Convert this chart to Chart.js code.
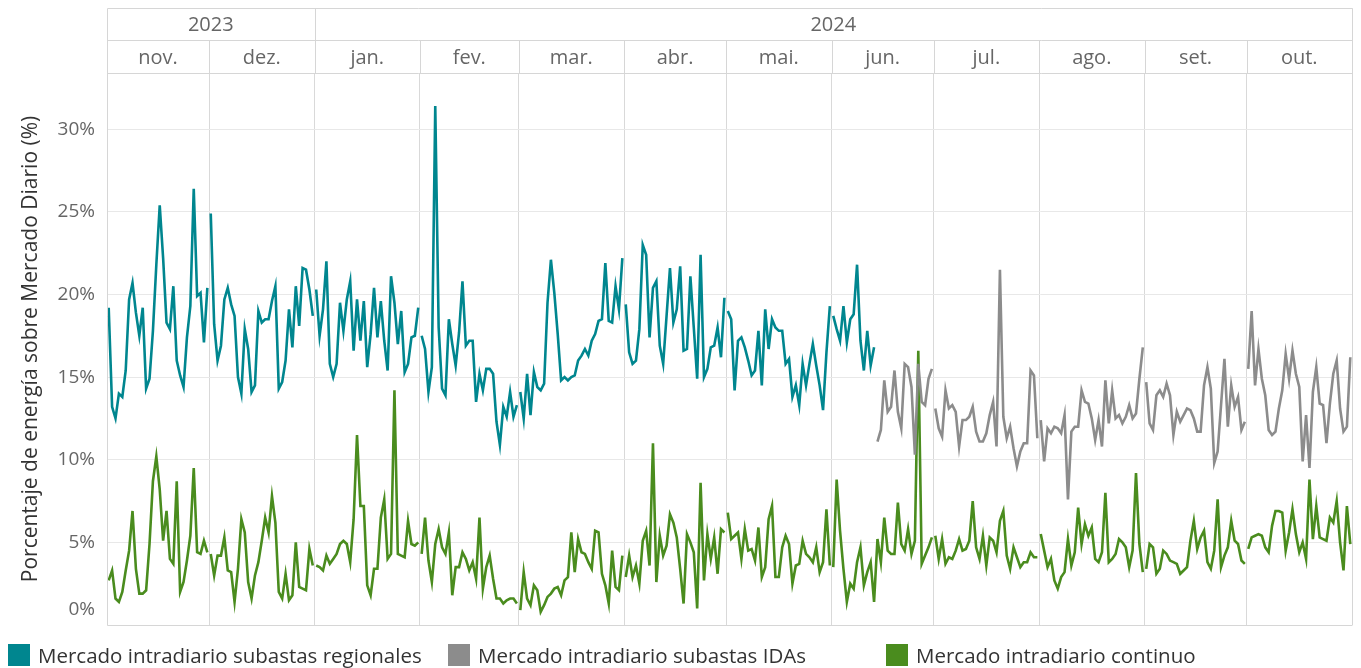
<!DOCTYPE html>
<html>
<head>
<meta charset="utf-8">
<title>Mercado intradiario</title>
<script src="https://cdn.jsdelivr.net/npm/chart.js@4"></script>
<style>
  html, body { margin: 0; padding: 0; background: #fff; }
  #wrap { position: relative; width: 1361px; height: 668px; overflow: hidden; }
  #chart { position: absolute; left: 0; top: 0; }
  .legend { position: absolute; left: 0; top: 643px; font-family: "Open Sans", sans-serif; font-size: 20.5px; color: #333; }
  .item { position: absolute; top: 0; white-space: nowrap; padding-left: 30px; line-height: 24px; }
  .sw { position: absolute; left: 0; top: 1px; width: 22px; height: 22px; }
</style>
</head>
<body>
<div id="wrap">
  <canvas id="chart" width="1361" height="668"></canvas>
  <div class="legend" id="legend"></div>
</div>
<script>
var months = ['nov.', 'dez.', 'jan.', 'fev.', 'mar.', 'abr.', 'mai.', 'jun.', 'jul.', 'ago.', 'set.', 'out.'];
var monthDays = [30, 31, 31, 29, 31, 30, 31, 30, 31, 31, 30, 31];
var years = ['2023', '2024'];
var yearMonths = [2, 10];
var yTicks = [0, 5, 10, 15, 20, 25, 30];

// 1 nov 2023 - 13 jun 2024
var regionales = [
  19.2, 13.2, 12.5, 14.0, 13.8, 15.4, 19.7, 20.7, 18.9, 17.5, 19.2, 14.3, 14.9, 17.8, 21.8, 25.4, 22.2, 18.3, 17.9, 20.5, 16.0, 15.1, 14.4, 17.4, 19.3, 26.4, 19.9, 20.1, 17.1, 20.4,
  24.9, 18.2, 16.0, 16.9, 19.7, 20.4, 19.4, 18.7, 15.0, 14.0, 17.9, 16.7, 14.1, 14.5, 19.0, 18.3, 18.5, 18.5, 19.6, 20.5, 14.3, 14.7, 16.0, 19.1, 16.8, 20.5, 18.1, 21.6, 21.5, 20.3, 18.7,
  20.3, 17.5, 19.1, 22.0, 15.8, 15.0, 15.8, 19.5, 17.8, 19.7, 20.8, 16.6, 19.7, 17.2, 19.6, 15.6, 17.6, 20.4, 17.4, 19.6, 17.2, 15.4, 21.1, 19.5, 17.0, 19.0, 15.3, 15.8, 17.4, 17.5, 19.2,
  17.5, 16.7, 14.1, 15.6, 31.4, 18.0, 14.3, 13.9, 18.5, 17.0, 15.7, 17.7, 20.8, 16.9, 17.2, 17.2, 13.5, 15.2, 14.2, 15.5, 15.5, 15.2, 12.3, 10.9, 13.2, 12.6, 14.1, 12.6, 13.3,
  14.1, 12.5, 15.2, 12.7, 15.3, 14.4, 14.2, 14.6, 19.5, 22.1, 20.1, 17.6, 14.8, 15.0, 14.8, 15.0, 15.1, 16.0, 16.3, 16.7, 16.3, 17.2, 17.6, 18.4, 18.5, 21.9, 18.4, 18.3, 20.5, 19.1, 22.2,
  19.4, 16.5, 15.8, 16.0, 17.9, 23.0, 22.4, 17.4, 20.4, 20.8, 16.9, 15.8, 18.7, 21.6, 18.3, 19.1, 21.7, 16.6, 16.7, 21.1, 18.0, 14.9, 22.4, 15.0, 15.5, 16.8, 16.9, 18.0, 16.2, 19.8,
  19.0, 18.5, 14.2, 17.2, 17.4, 16.8, 16.0, 15.1, 15.4, 17.8, 14.5, 19.1, 16.7, 18.5, 18.0, 17.8, 17.8, 15.8, 16.1, 13.8, 14.5, 13.3, 15.8, 14.5, 15.8, 17.0, 15.7, 14.5, 13.0, 16.5, 19.3,
  18.7, 17.9, 17.2, 19.3, 17.1, 18.5, 18.8, 21.8, 17.2, 15.4, 17.8, 15.7, 16.8
];

// 14 jun - 31 out 2024
var idas = [
  11.1, 11.8, 14.8, 12.9, 13.2, 15.4, 12.9, 11.9, 15.8, 15.6, 14.4, 10.3, 15.8, 13.5, 13.3, 14.9, 15.5,
  13.1, 11.9, 11.4, 14.2, 13.1, 13.3, 12.9, 10.8, 12.4, 12.4, 12.6, 13.2, 11.7, 11.1, 11.1, 11.6, 12.7, 13.5, 10.8, 21.5, 12.6, 11.3, 12.0, 10.7, 9.6, 10.5, 11.0, 11.0, 15.4, 15.1, 11.3,
  12.4, 9.9, 11.9, 11.6, 12.0, 11.9, 11.6, 12.7, 7.6, 11.7, 12.0, 12.0, 14.2, 13.5, 13.4, 12.5, 11.2, 12.4, 10.8, 14.8, 12.2, 14.2, 12.5, 12.7, 12.2, 12.6, 13.3, 12.5, 12.8, 14.9, 16.8,
  14.7, 12.2, 11.8, 13.9, 14.2, 13.8, 14.6, 13.9, 11.5, 12.9, 12.3, 12.7, 13.1, 13.0, 12.5, 11.7, 11.7, 14.5, 15.6, 14.3, 9.8, 10.5, 13.3, 16.1, 12.0, 14.5, 13.2, 13.8, 11.8, 12.3,
  15.5, 19.0, 14.5, 16.7, 14.9, 13.9, 11.8, 11.5, 11.7, 13.1, 14.2, 16.4, 14.9, 16.6, 15.2, 14.4, 9.9, 12.7, 9.5, 14.1, 15.6, 13.4, 13.3, 11.0, 13.4, 15.2, 16.0, 13.1, 11.7, 12.0, 16.2
];
var idasStart = 226;

// 1 nov 2023 - 31 out 2024
var continuo = [
  2.7, 3.3, 1.6, 1.4, 2.0, 3.3, 4.5, 6.9, 3.4, 1.9, 1.9, 2.1, 4.9, 8.7, 10.2, 8.2, 5.1, 6.9, 4.0, 3.7, 8.7, 2.0, 2.6, 3.9, 5.4, 9.5, 4.4, 4.3, 5.1, 4.4,
  4.3, 3.0, 4.2, 4.2, 5.3, 3.3, 3.2, 1.4, 3.4, 6.4, 5.6, 2.6, 1.6, 3.0, 3.8, 5.1, 6.5, 5.6, 7.8, 6.2, 2.0, 1.6, 3.1, 1.5, 1.8, 5.0, 2.3, 2.2, 2.1, 4.6, 3.6,
  3.6, 3.5, 3.3, 4.2, 3.7, 4.0, 4.3, 4.9, 5.1, 4.9, 3.8, 6.4, 11.5, 7.2, 7.2, 2.4, 1.8, 3.4, 3.4, 6.5, 7.6, 4.0, 4.3, 14.2, 4.3, 4.2, 4.1, 6.3, 4.9, 4.8, 5.0,
  4.3, 6.5, 3.9, 2.6, 4.9, 5.8, 4.7, 4.3, 5.6, 1.8, 3.5, 3.5, 4.4, 4.0, 3.3, 3.8, 2.8, 6.5, 2.2, 3.5, 4.2, 2.8, 1.6, 1.6, 1.3, 1.5, 1.6, 1.6, 1.3,
  0.9, 3.2, 1.6, 1.2, 2.4, 2.1, 0.8, 1.2, 1.7, 1.9, 2.2, 2.3, 1.8, 2.7, 2.9, 5.6, 3.2, 5.2, 4.4, 4.3, 3.8, 3.4, 5.7, 5.6, 3.1, 2.4, 1.3, 4.5, 2.3, 2.1, 4.2,
  2.9, 4.2, 2.9, 3.6, 2.5, 5.1, 5.7, 3.6, 11.0, 2.6, 5.4, 4.2, 4.8, 6.7, 6.2, 5.3, 3.4, 1.3, 5.5, 5.0, 4.4, 1.0, 8.6, 2.7, 5.5, 4.0, 5.3, 3.1, 5.8, 5.6,
  6.8, 5.2, 5.4, 5.6, 4.0, 5.8, 4.5, 4.6, 3.9, 5.9, 2.9, 3.5, 6.4, 7.2, 2.9, 2.9, 4.7, 5.4, 4.9, 2.5, 3.6, 3.7, 5.1, 4.3, 4.1, 3.8, 4.7, 3.2, 3.8, 7.0, 3.6,
  3.5, 8.8, 5.7, 3.4, 1.4, 2.5, 2.2, 3.8, 4.7, 2.4, 3.2, 3.8, 1.4, 5.2, 3.8, 6.5, 4.5, 4.3, 4.3, 7.4, 4.9, 4.5, 5.8, 4.3, 5.1, 16.6, 3.7, 4.2, 4.7, 5.3,
  5.4, 4.0, 5.2, 3.7, 4.1, 4.0, 4.5, 5.2, 4.5, 4.6, 5.1, 7.5, 4.7, 4.0, 5.4, 3.6, 5.3, 5.1, 4.4, 6.3, 6.9, 4.2, 3.4, 4.7, 4.1, 3.5, 3.8, 3.8, 4.4, 4.1, 4.1,
  5.5, 4.5, 3.5, 4.0, 2.7, 2.2, 2.9, 3.2, 5.2, 3.6, 4.4, 7.1, 4.9, 6.1, 5.4, 5.9, 4.0, 3.8, 4.4, 8.0, 3.8, 4.0, 4.3, 5.2, 5.0, 4.7, 3.5, 4.5, 9.2, 4.9, 3.2,
  3.4, 4.9, 4.7, 3.1, 3.4, 4.5, 4.3, 3.9, 3.8, 3.7, 3.1, 3.3, 3.5, 5.1, 6.3, 4.6, 5.3, 5.7, 3.8, 3.4, 4.5, 7.6, 3.5, 4.2, 4.7, 6.3, 5.1, 4.9, 3.9, 3.7,
  4.6, 5.3, 5.4, 5.5, 5.4, 4.7, 4.4, 6.0, 6.9, 6.9, 6.8, 4.5, 5.6, 7.0, 5.5, 4.4, 5.0, 4.0, 8.8, 5.2, 7.2, 5.3, 5.2, 5.1, 6.5, 6.2, 7.5, 5.0, 3.3, 7.2, 4.9
];

var series = [
  { label: 'Mercado intradiario subastas regionales', color: '#00868f', values: regionales, start: 0 },
  { label: 'Mercado intradiario subastas IDAs', color: '#8c8c8c', values: idas, start: idasStart },
  { label: 'Mercado intradiario continuo', color: '#4a8c1e', values: continuo, start: 0 }
];

var FONT = '"Open Sans", sans-serif';
var TICK_FONT = { family: FONT, size: 19 };

// day offsets where each month begins
var monthStarts = [0];
for (var i = 0; i < monthDays.length; i++) {
  monthStarts.push(monthStarts[i] + monthDays[i]);
}
var totalDays = monthStarts[monthStarts.length - 1];

// one point per day, broken at every month edge
function toPoints(values, start) {
  var pts = [];
  for (var i = 0; i < values.length; i++) {
    var d = start + i;
    if (i > 0 && monthStarts.indexOf(d) !== -1) pts.push({ x: d, y: null });
    pts.push({ x: d + 0.5, y: values[i] });
  }
  return pts;
}

// year / month header above the plot, plus the frame around it
var header = {
  id: 'header',
  afterDraw: function(chart) {
    var ctx = chart.ctx, xs = chart.scales.x, ys = chart.scales.y, area = chart.chartArea;
    var top = 8.5, mid = 40.5, bottom = area.top + 0.5;
    var left = Math.round(area.left) + 0.5, right = Math.round(area.right) + 0.5;
    ctx.save();
    ctx.strokeStyle = '#d6d6d6';
    ctx.lineWidth = 1;
    ctx.beginPath();
    ctx.moveTo(left, top); ctx.lineTo(right, top);
    ctx.moveTo(left, mid); ctx.lineTo(right, mid);
    ctx.moveTo(left, bottom); ctx.lineTo(right, bottom);
    ctx.moveTo(left, top); ctx.lineTo(left, area.bottom);
    ctx.moveTo(right, top); ctx.lineTo(right, area.bottom);
    ctx.moveTo(left, area.bottom + 0.5); ctx.lineTo(right, area.bottom + 0.5);
    var m = 0;
    for (var y = 0; y < years.length; y++) {
      m += yearMonths[y];
      var xe = Math.round(xs.getPixelForValue(monthStarts[m])) + 0.5;
      ctx.moveTo(xe, top); ctx.lineTo(xe, mid);
    }
    for (var k = 1; k < months.length; k++) {
      var xm = Math.round(xs.getPixelForValue(monthStarts[k])) + 0.5;
      ctx.moveTo(xm, mid); ctx.lineTo(xm, bottom);
    }
    ctx.stroke();

    ctx.fillStyle = '#666';
    ctx.font = '20px ' + FONT;
    ctx.textAlign = 'center';
    ctx.textBaseline = 'middle';
    for (var j = 0; j < months.length; j++) {
      var a = xs.getPixelForValue(monthStarts[j]), b = xs.getPixelForValue(monthStarts[j + 1]);
      ctx.fillText(months[j], (a + b) / 2, (mid + bottom) / 2 + 1);
    }
    m = 0;
    for (var t = 0; t < years.length; t++) {
      var ya = xs.getPixelForValue(monthStarts[m]);
      m += yearMonths[t];
      var yb = xs.getPixelForValue(monthStarts[m]);
      ctx.fillText(years[t], (ya + yb) / 2, (top + mid) / 2 + 1);
    }

    // the lowest tick label sits just inside the plot
    ctx.font = TICK_FONT.size + 'px ' + FONT;
    ctx.textAlign = 'right';
    ctx.fillText(yTicks[0] + '%', ys.right - 12, ys.getPixelForValue(yTicks[0]) - 15);
    ctx.restore();
  }
};

new Chart(document.getElementById('chart'), {
  type: 'line',
  data: {
    datasets: series.map(function(s) {
      return {
        label: s.label,
        data: toPoints(s.values, s.start),
        borderColor: s.color,
        borderWidth: 2.6,
        pointRadius: 0,
        tension: 0,
        spanGaps: false,
        fill: false
      };
    })
  },
  options: {
    responsive: false,
    animation: false,
    devicePixelRatio: 1,
    layout: { padding: { left: 0, right: 9, top: 73, bottom: 43 } },
    plugins: { legend: { display: false }, tooltip: { enabled: false } },
    scales: {
      x: {
        type: 'linear',
        min: 0,
        max: totalDays,
        afterBuildTicks: function(scale) {
          scale.ticks = monthStarts.map(function(v) { return { value: v }; });
        },
        afterFit: function(scale) { scale.height = 0; },
        ticks: { display: false },
        grid: { color: '#d9d9d9', drawTicks: false, lineWidth: 1 },
        border: { display: false }
      },
      y: {
        min: 0,
        max: 33.4,
        afterBuildTicks: function(scale) {
          scale.ticks = yTicks.map(function(v) { return { value: v }; });
        },
        afterFit: function(scale) { scale.width = 107; },
        ticks: {
          padding: 12,
          color: '#666',
          font: TICK_FONT,
          callback: function(v) { return v === yTicks[0] ? '' : v + '%'; }
        },
        grid: { color: '#e8e8e8', drawTicks: false, lineWidth: 1 },
        border: { display: false },
        title: {
          display: true,
          text: 'Porcentaje de energía sobre Mercado Diario (%)',
          color: '#333',
          font: { family: FONT, size: 21 },
          padding: { top: 18, bottom: 0 }
        }
      }
    }
  },
  plugins: [header]
});

// legend row under the plot
var legendEl = document.getElementById('legend');
var legendX = [8, 448, 886];
series.forEach(function(s, i) {
  var item = document.createElement('div');
  item.className = 'item';
  item.style.left = legendX[i] + 'px';
  item.innerHTML = '<span class="sw" style="background:' + s.color + '"></span>' + s.label;
  legendEl.appendChild(item);
});
</script>
</body>
</html>
